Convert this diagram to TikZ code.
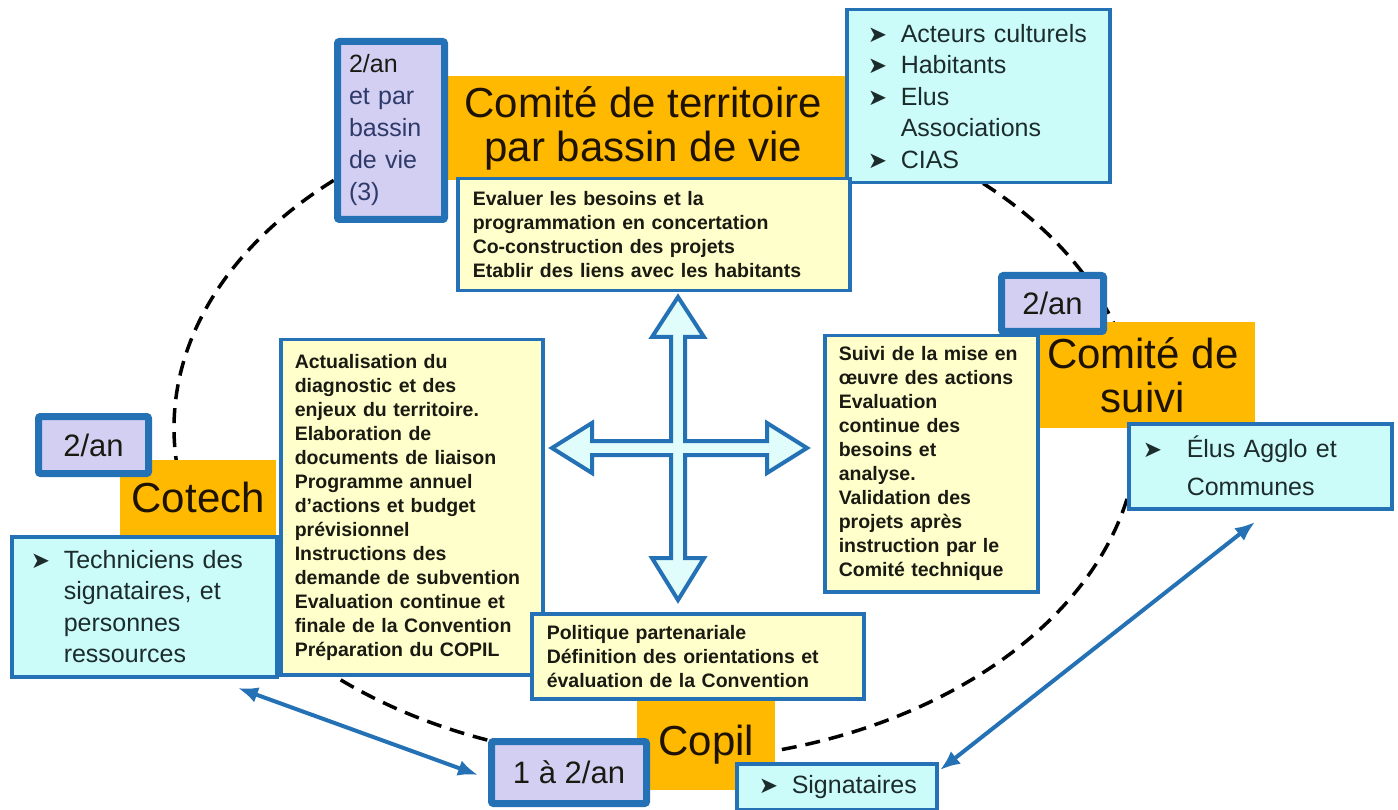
\documentclass[tikz,border=0pt]{standalone}
\usepackage{fontspec}
\setmainfont{Liberation Sans}
\newfontfamily\dingfont{DejaVu Sans}
\usetikzlibrary{arrows.meta}
\definecolor{orng}{HTML}{FFB900}
\definecolor{lav}{HTML}{D3CFF2}
\definecolor{blu}{HTML}{2472B5}
\definecolor{yel}{HTML}{FFFFCC}
\definecolor{cyn}{HTML}{CCFCFA}
\definecolor{titletext}{HTML}{1E1200}
\definecolor{ytext}{HTML}{1A1A12}
\definecolor{ctext}{HTML}{1C2C2C}
\definecolor{lavtext}{HTML}{2E3A6A}
\newcommand{\bul}{{\dingfont\fontsize{23}{23}\selectfont\raisebox{0pt}{➤}}}
\newcommand{\bitem}[2]{\makebox[#1][l]{\bul}#2}
\tikzset{
  obox/.style={fill=orng, draw=none, inner sep=0pt, font=\fontsize{42}{44}\selectfont, text=titletext, align=center},
  lbox/.style={fill=lav, draw=blu, line width=7pt, rounded corners=2pt, inner sep=0pt, font=\fontsize{31}{34}\selectfont, text=ytext},
  ybox/.style={fill=yel, draw=blu, line width=3.5pt, align=left, font=\fontsize{19.5}{24}\selectfont\bfseries, text=ytext, inner xsep=14pt, inner ysep=0pt},
  cbox/.style={fill=cyn, draw=blu, line width=3.5pt, align=left, font=\fontsize{25}{31.5}\selectfont, text=ctext, inner ysep=0pt},
  conn/.style={draw=blu, line width=4pt, {Latex[length=20pt,width=16pt]}-{Latex[length=20pt,width=16pt]}},
  ringline/.style={draw=black, line width=3.5pt, dash pattern=on 15pt off 9pt},
  crossarrow/.style={fill=cyn!60!white, draw=blu, line width=4pt, line join=miter}
}
\begin{document}
\begin{tikzpicture}[x=1pt,y=-1pt]
\useasboundingbox (0,0) rectangle (1398,810);
% dashed cycle
\draw[ringline] (656,428) ellipse [x radius=482, y radius=333];

% orange title boxes
\node[obox, anchor=north west, minimum width=404, minimum height=104] (terr) at (441,76) {Comité de territoire\\par bassin de vie};
\node[obox, anchor=north west, minimum width=225, minimum height=106] (suivi) at (1030,322) {Comité de\\suivi};
\node[obox, anchor=north west, minimum width=156, minimum height=75] (cotech) at (120,460) {Cotech};
\node[obox, anchor=north west, minimum width=138, minimum height=91] (copil) at (637,699) {Copil};

% frequency boxes
\node[lbox, anchor=north west, minimum width=107, minimum height=178, align=left, text width=84, inner xsep=11.5pt, font=\fontsize{25}{32}\selectfont] (fterr) at (334,38)
  {2/an\\\textcolor{lavtext}{et par}\\\textcolor{lavtext}{bassin}\\\textcolor{lavtext}{de vie}\\\textcolor{lavtext}{(3)}};
\node[lbox, anchor=north west, minimum width=102, minimum height=56] (fsuivi) at (998,272) {2/an};
\node[lbox, anchor=north west, minimum width=110, minimum height=57] (fcotech) at (35,413) {2/an};
\node[lbox, anchor=north west, minimum width=155, minimum height=62] (fcopil) at (488,738) {1 à 2/an};

% member boxes
\node[cbox, anchor=north west, minimum width=263, minimum height=173, inner xsep=21pt, text width=221] (mterr) at (845,8)
  {\bitem{33pt}{Acteurs culturels}\\\bitem{33pt}{Habitants}\\\bitem{33pt}{Elus}\\\hspace*{33pt}Associations\\\bitem{33pt}{CIAS}};
\node[cbox, anchor=north west, minimum width=263, minimum height=85, inner xsep=14pt, text width=235, font=\fontsize{25}{38}\selectfont] (msuivi) at (1127,422)
  {\bitem{44pt}{Élus Agglo et}\\\hspace*{44pt}Communes};
\node[cbox, anchor=north west, minimum width=265, minimum height=140, inner xsep=19pt, text width=227] (mcotech) at (10,535)
  {\bitem{33pt}{Techniciens des}\\\hspace*{33pt}signataires, et\\\hspace*{33pt}personnes\\\hspace*{33pt}ressources};
\node[cbox, anchor=north west, minimum width=200, minimum height=46, inner xsep=22pt, text width=156] (mcopil) at (735,762)
  {\bitem{33pt}{Signataires}};

% mission boxes
\node[ybox, anchor=north west, minimum width=392, minimum height=112, inner xsep=15pt, text width=362] (dterr) at (456,177)
  {Evaluer les besoins et la\\programmation en concertation\\Co-construction des projets\\Etablir des liens avec les habitants};
\node[ybox, anchor=north west, minimum width=262, minimum height=335, text width=234] (dcotech) at (279,338)
  {Actualisation du\\diagnostic et des\\enjeux du territoire.\\Elaboration de\\documents de liaison\\Programme annuel\\d’actions et budget\\prévisionnel\\Instructions des\\demande de subvention\\Evaluation continue et\\finale de la Convention\\Préparation du COPIL};
\node[ybox, anchor=north west, minimum width=213, minimum height=256, text width=185] (dsuivi) at (823,334)
  {Suivi de la mise en\\œuvre des actions\\Evaluation\\continue des\\besoins et\\analyse.\\Validation des\\projets après\\instruction par le\\Comité technique};
\node[ybox, anchor=north west, minimum width=332, minimum height=85, inner xsep=15pt, text width=302] (dcopil) at (530,612)
  {Politique partenariale\\Définition des orientations et\\évaluation de la Convention};

% central four-way arrow
\draw[crossarrow] (678,297) -- (704,337) -- (685,337) -- (685,441) -- (767,441) -- (767,423) -- (807,448)
  -- (767,473) -- (767,455) -- (685,455) -- (685,558) -- (704,558) -- (678,600) -- (652,558)
  -- (671,558) -- (671,455) -- (592,455) -- (592,473) -- (552,448) -- (592,423) -- (592,441)
  -- (671,441) -- (671,337) -- (652,337) -- cycle;

% blue connectors
\coordinate (lt) at (238,688);
\coordinate (lb) at (478,775);
\coordinate (rt) at (1255,522);
\coordinate (rb) at (940,770);
\draw[conn] (lt) -- (lb);
\draw[conn] (rt) -- (rb);
\end{tikzpicture}
\end{document}
